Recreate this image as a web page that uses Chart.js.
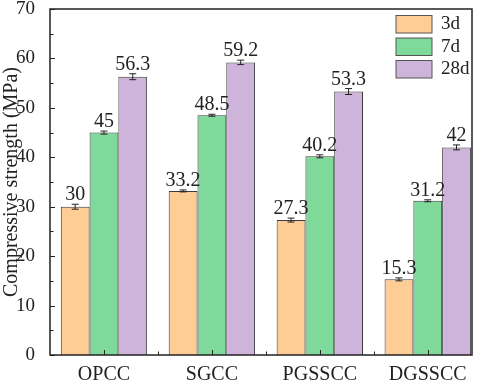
<!DOCTYPE html>
<html lang="en">
<head>
  <meta charset="UTF-8" />
  <title>Compressive strength</title>
  <script src="https://cdn.jsdelivr.net/npm/chart.js"></script>
  <style>
    html, body { margin: 0; padding: 0; background: #fff; }
    #wrap { width: 484px; height: 381px; }
  </style>
</head>
<body>
  <div id="wrap"><canvas id="grafica" width="484" height="381"></canvas></div>

  <script>
    const categorias = ["OPCC", "SGCC", "PGSSCC", "DGSSCC"];
    const edades = ["3d", "7d", "28d"];
    const valores3d = [30, 33.2, 27.3, 15.3];
    const valores7d = [45, 48.5, 40.2, 31.2];
    const valores28d = [56.3, 59.2, 53.3, 42];
    const error3d = [0.5, 0.2, 0.4, 0.3];
    const error7d = [0.3, 0.2, 0.3, 0.2];
    const error28d = [0.6, 0.45, 0.6, 0.5];
    const colores = ["#FECC95", "#7FD99B", "#CEB4DA"];

    const fuente = "'Liberation Serif', 'Times New Roman', serif";
    const series = [valores3d, valores7d, valores28d];
    const errores = [error3d, error7d, error28d];

    // etiquetas, barras de error, marco y leyenda
    const extras = {
      id: "extras",
      afterDatasetsDraw(chart) {
        const ctx = chart.ctx;
        const y = chart.scales.y;
        const x = chart.scales.x;
        const area = chart.chartArea;
        ctx.save();

        chart.data.datasets.forEach((ds, d) => {
          const meta = chart.getDatasetMeta(d);
          meta.data.forEach((bar, i) => {
            const v = series[d][i];
            const e = errores[d][i];
            const top = y.getPixelForValue(v + e);
            const bot = y.getPixelForValue(v - e);
            ctx.strokeStyle = "#222";
            ctx.lineWidth = 1;
            ctx.beginPath();
            ctx.moveTo(bar.x, top); ctx.lineTo(bar.x, bot);
            ctx.moveTo(bar.x - 3.5, top); ctx.lineTo(bar.x + 3.5, top);
            ctx.moveTo(bar.x - 3.5, bot); ctx.lineTo(bar.x + 3.5, bot);
            ctx.stroke();
            ctx.fillStyle = "#222";
            ctx.font = "20px " + fuente;
            ctx.textAlign = "center";
            ctx.textBaseline = "alphabetic";
            ctx.fillText(String(v), bar.x, top - 4);
          });
        });

        // marco
        ctx.strokeStyle = "#222";
        ctx.lineWidth = 1.5;
        ctx.strokeRect(area.left, area.top, area.right - area.left, area.bottom - area.top);

        // marcas del eje y
        ctx.lineWidth = 1;
        for (let v = 0; v <= 70; v += 5) {
          const py = Math.round(y.getPixelForValue(v)) + 0.5;
          const len = v % 10 === 0 ? 5 : 3.5;
          ctx.beginPath();
          ctx.moveTo(area.left, py); ctx.lineTo(area.left + len, py);
          ctx.stroke();
        }
        // marcas del eje x
        for (let i = 0; i < categorias.length; i++) {
          let px = Math.round(x.getPixelForValue(i)) + 0.5;
          ctx.beginPath();
          ctx.moveTo(px, area.bottom); ctx.lineTo(px, area.bottom - 5);
          ctx.stroke();
          px = Math.round(x.getPixelForValue(i + 0.5)) + 0.5;
          if (px < area.right - 2) {
            ctx.beginPath();
            ctx.moveTo(px, area.bottom); ctx.lineTo(px, area.bottom - 3.5);
            ctx.stroke();
          }
        }

        // leyenda
        ctx.font = "19px " + fuente;
        ctx.textAlign = "left";
        ctx.textBaseline = "middle";
        edades.forEach((nombre, k) => {
          const ly = 15.5 + k * 22.5;
          ctx.fillStyle = colores[k];
          ctx.fillRect(396, ly, 36, 17.5);
          ctx.strokeStyle = "#555";
          ctx.lineWidth = 1;
          ctx.strokeRect(396, ly, 36, 17.5);
          ctx.fillStyle = "#222";
          ctx.fillText(nombre, 441, ly + 9);
        });
        ctx.restore();
      }
    };

    const datasets = edades.map((nombre, k) => ({
      label: nombre,
      data: series[k].map((v, i) => ({ x: i, y: v })),
      backgroundColor: colores[k],
      borderColor: "#3a3a3a",
      borderWidth: 1,
      barPercentage: 1,
      categoryPercentage: 0.8
    }));

    new Chart(document.getElementById("grafica"), {
      type: "bar",
      data: { datasets },
      options: {
        responsive: false,
        animation: false,
        layout: { autoPadding: false, padding: { top: 9, right: 12, left: 0, bottom: 0 } },
        plugins: { legend: { display: false }, tooltip: { enabled: false } },
        scales: {
          x: {
            type: "linear",
            offset: false,
            min: -0.5,
            max: 3.41,
            grid: { display: false },
            border: { display: false },
            afterBuildTicks: s => { s.ticks = categorias.map((c, i) => ({ value: i })); },
            afterFit: s => { s.height = 26; s.paddingLeft = 0; s.paddingRight = 0; },
            ticks: {
              padding: 0,
              color: "#222",
              font: { family: fuente, size: 20 },
              callback: v => categorias[v] ?? ""
            }
          },
          y: {
            min: 0,
            max: 70,
            grid: { display: false },
            border: { display: false },
            afterFit: s => { s.width = 50; s.paddingTop = 0; s.paddingBottom = 0; },
            ticks: {
              stepSize: 10,
              padding: 7,
              color: "#222",
              font: { family: fuente, size: 19 }
            },
            title: {
              display: true,
              text: "Compressive strength (MPa)",
              color: "#222",
              padding: 0,
              font: { family: fuente, size: 20 }
            }
          }
        }
      },
      plugins: [extras]
    });
  </script>
</body>
</html>
